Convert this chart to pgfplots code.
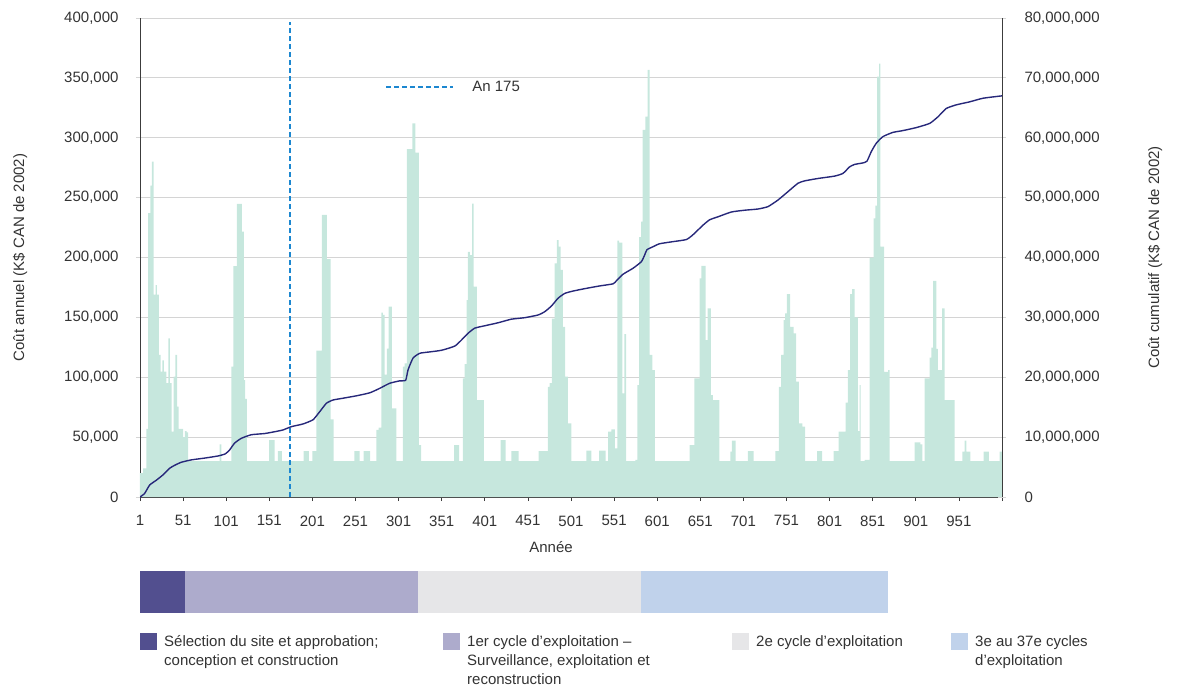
\documentclass[border=0pt]{standalone}
\usepackage{fontspec}
\setmainfont{Liberation Sans}
\usepackage{pgfplots}
\pgfplotsset{compat=1.18}

\definecolor{barfill}{HTML}{C6E7DD}
\definecolor{cumline}{HTML}{27287A}
\definecolor{an175}{HTML}{1C87D0}
\definecolor{gridgray}{HTML}{D4D4D4}
\definecolor{axisdark}{HTML}{3C3C3C}
\definecolor{txt}{HTML}{333333}
\definecolor{phaseA}{HTML}{524F8F}
\definecolor{phaseB}{HTML}{ADABCC}
\definecolor{phaseC}{HTML}{E6E6E8}
\definecolor{phaseD}{HTML}{C0D2EB}

\newcommand*{\chartfont}{\fontsize{15}{19}\selectfont}

\pgfplotsset{
  costaxis/.style={
    scale only axis,
    width=862pt, height=479pt,
    at={(140pt,-497pt)}, anchor=south west,
    xmin=1, xmax=1001,
    scaled y ticks=false,
    tick align=outside,
    major tick length=8pt,
    /pgf/number format/assume math mode=true,
    /pgf/number format/.cd, fixed, 1000 sep={,}, /pgfplots/.cd,
    tick label style={font=\chartfont, text=txt},
    label style={font=\chartfont, text=txt},
    ytick style={gridgray, line width=1pt},
  },
}

\begin{document}
\begin{tikzpicture}[x=1pt, y=1pt]
\useasboundingbox (0,0) rectangle (1178,-689);

% annual cost (left axis)
\begin{axis}[
    costaxis,
    ymin=0, ymax=400000,
    axis x line=bottom, axis y line=left,
    axis line style={axisdark, line width=0.8pt, -},
    ytick={0,50000,100000,150000,200000,250000,300000,350000,400000},
    yticklabel style={xshift=-14pt},
    ymajorgrids=true,
    grid style={gridgray, line width=1pt},
    xtick={1,51,101,151,201,251,301,351,401,451,501,551,601,651,701,751,801,851,901,951,1001},
    xticklabels={1,51,101,151,201,251,301,351,401,451,501,551,601,651,701,751,801,851,901,951,{}},
    xticklabel style={yshift=-11pt},
    xtick style={axisdark, line width=0.8pt},
    xlabel={Année},
    ylabel={Coût annuel (K\$ CAN de 2002)},
    xlabel style={at={(axis description cs:0.4768,-0.1044)}, anchor=center},
    ylabel style={at={(axis description cs:-0.1392,0.5)}, anchor=center},
    legend style={at={(0.2842,0.856)}, anchor=west, draw=none, fill=none,
      inner sep=0pt, font=\chartfont, text=txt,
      nodes={inner sep=0pt},
      /tikz/every odd column/.append style={column sep=18pt}},
    legend image code/.code={\draw[#1] (0pt,0pt) -- (67pt,0pt);},
  ]

  \addplot[const plot, fill=barfill, draw=none, forget plot] coordinates {
    (1,20000) (4.5,24000) (8.3,57000) (10.3,237000) (13,260000) (14.9,280000)
    (16.9,169000) (19.2,177000) (20.7,169000) (23,118600) (25,104700)
    (26.9,114000) (28.8,104700) (31.5,95000) (33.8,132500) (35.7,95000)
    (37.6,54500) (40,100500) (42,118600) (44,75400) (45.9,57000) (51,50000)
    (53,55000) (55,54000) (56.7,30000)
    (93.4,44000) (95.3,30000) (106.9,108800) (109.2,192900) (113.5,244700)
    (119.3,221600) (121.6,97700) (123,82000) (125,30000) (150.7,47600)
    (157.2,30000) (161,38400) (165.6,30000)
    (190.9,38400) (197,30000) (200.9,38400) (205.5,122200) (212,235500)
    (217.9,198700) (222.1,64900) (225.6,30000) (249.6,38400) (255.8,30000)
    (260.4,38400) (268.1,30000) (275.1,56000) (277.8,57900) (280.9,153900)
    (282.8,152000) (284.8,102300) (287.5,124000) (289.4,159000) (293.2,74000)
    (298.3,30000) (306,108800) (308,111600) (310.7,290600) (316.9,312000)
    (320.4,287500) (324.6,43400) (327,30000)
    (365.3,43400) (371.1,30000) (375.7,99000) (377.7,111000) (380,164500)
    (381.5,204800) (383.8,202000) (386.4,245000) (388,175600) (391.8,81000)
    (400,30000) (419.3,47600) (425.1,30000) (431.7,38400) (440.2,30000)
    (463.4,38400) (474.2,92000) (476.2,95000) (478.9,149000) (482,195000)
    (484.7,214600) (486.6,209000) (488.9,189600) (491.6,142000) (494.3,100500)
    (497.4,61500) (501.3,30000)
    (518.8,38700) (524.6,30000) (533.5,38700) (541.2,30000) (544,54500)
    (547.8,56500) (552,40600) (554.8,214000) (556.7,212400) (560.5,86600)
    (562.9,136000) (564.8,30000) (575.6,31000) (577.9,93500) (579.9,217000)
    (582.2,230000) (584.1,306500) (587.2,317600) (589.9,356600) (592.2,118600)
    (595.3,106000) (598.4,30000)
    (638.6,43400) (644,99000) (650.2,182600) (652.1,193000) (657.1,131000)
    (659.4,157600) (663.3,85000) (665.6,81000) (673,30000) (685.8,37800)
    (687.7,47000) (692,30000) (706.3,38400) (712.8,30000) (738,38400)
    (742.2,92000) (744.9,118600) (747.6,147800) (749.5,153400) (751.5,169500)
    (755.3,142000) (759.2,136700) (762.3,96300) (765.4,61500) (769.3,58700)
    (772.7,30000) (786.6,38400) (792.4,30000) (805.6,38400) (811.4,54500)
    (819.5,78800) (822.2,106000) (824.9,169500) (827.2,173700) (829.9,150000)
    (833.8,55000) (835.7,93500) (836.9,30000) (841.7,31000) (847.5,199800)
    (852.2,232700) (854.1,243300) (856,351000) (858.4,362000) (859.9,209000)
    (864.2,104600) (868.8,106000) (870.7,30000)
    (899.7,45600) (906.3,44000) (908.6,30000) (911.3,99000) (917.1,116300)
    (919,124700) (921,180400) (924.8,123600) (926.7,106000) (931.4,157600)
    (934.5,81000) (946.1,30000) (955,37800) (957.7,47000) (959.6,37800)
    (964.3,30000) (979.7,37800) (985.9,30000) (998.3,37800) (1001,37800)
  } \closedcycle;

  \addplot[an175, line width=2.2pt, dash pattern=on 5pt off 3pt] coordinates {
    (175,0) (175,396700)
  };
  \addlegendentry{An 175}
\end{axis}

% cumulative cost (right axis)
\begin{axis}[
    costaxis,
    ymin=0, ymax=80000000,
    axis x line=none, axis y line=right,
    axis line style={axisdark, line width=0.8pt, -},
    ytick={0,10000000,20000000,30000000,40000000,50000000,60000000,70000000,80000000},
    yticklabel style={xshift=15pt},
    ylabel={Coût cumulatif (K\$ CAN de 2002)},
    ylabel style={at={(axis description cs:1.1775,0.5)}, anchor=center,
      font=\chartfont, text=txt},
  ]
  \addplot[cumline, line width=1.4pt, smooth, tension=0.3] coordinates {
    (1,0) (6.4,600000) (12.2,2000000) (19.9,2800000) (27.7,3700000)
    (35.4,4800000) (41.2,5300000) (48.9,5800000) (60.5,6200000) (76,6500000)
    (91.4,6850000) (99.9,7200000) (104.9,7850000) (110.7,9000000)
    (118.5,9800000) (130.1,10400000) (145.5,10600000) (157.1,10900000)
    (166.9,11200000) (176.6,11750000) (190.1,12200000) (201.7,12900000)
    (209.5,14250000) (217.2,15650000) (224.9,16200000) (236.5,16500000)
    (252,16900000) (267.5,17400000) (279.1,18150000) (290.7,19000000)
    (302.3,19400000) (309.2,19500000) (311.9,21200000) (317.7,23200000)
    (325.5,24000000) (335.1,24200000) (350.6,24500000) (366.1,25200000)
    (373.8,26200000) (381.6,27350000) (389.3,28200000) (400.9,28600000)
    (416.4,29100000) (431.8,29700000) (447.3,29950000) (462.8,30400000)
    (470.5,30950000) (478.3,31900000) (486,33200000) (493.7,34000000)
    (503.4,34400000) (518.8,34850000) (534.2,35250000) (549.7,35600000)
    (553.6,36100000) (561.3,37200000) (572.9,38200000) (582.6,39300000)
    (586.4,40400000) (589.1,41300000) (596.1,41800000) (603.8,42300000)
    (619.3,42650000) (634.8,43000000) (642.5,43800000) (654.1,45400000)
    (661.8,46300000) (671.5,46800000) (687,47600000) (702.5,47900000)
    (717.9,48100000) (729.5,48500000) (741.1,49600000) (752.7,51000000)
    (764.3,52400000) (772.1,52800000) (787.5,53200000) (806.9,53600000)
    (816.5,54050000) (824.3,55150000) (830.1,55550000) (839.7,55800000)
    (844.4,56100000) (849.4,57700000) (855.2,59100000) (862.9,60200000)
    (874.5,60900000) (886.1,61200000) (901.6,61700000) (917.1,62400000)
    (926.7,63500000) (936.4,64900000) (948,65500000) (963.5,66000000)
    (978.9,66600000) (1001,67000000)
  };
\end{axis}

% phase band with its legend
\begin{axis}[
    scale only axis,
    width=862pt, height=42pt,
    at={(140pt,-613pt)}, anchor=south west,
    xmin=0, xmax=1000, ymin=0.5, ymax=1.5,
    hide axis,
    xbar stacked, bar width=42pt,
    legend columns=4,
    legend style={at={(0,-0.476)}, anchor=north west, draw=none, fill=none,
      inner sep=0pt, font=\chartfont, text=txt,
      nodes={inner sep=0pt},
      cells={anchor=north west},
      /tikz/every odd column/.append style={column sep=7pt},
      /tikz/every even column/.append style={column sep=0pt}},
    legend image code/.code={\fill[#1] (0pt,-17pt) rectangle (17pt,0pt);},
  ]
  \addplot[fill=phaseA, draw=none] coordinates {(52.2,1)};
  \addlegendentry{\parbox[t]{279pt}{\raggedright\strut Sélection du site et approbation;\\conception et construction}}
  \addplot[fill=phaseB, draw=none] coordinates {(270.3,1)};
  \addlegendentry{\parbox[t]{265pt}{\raggedright\strut 1er cycle d’exploitation –\\Surveillance, exploitation et\\reconstruction}}
  \addplot[fill=phaseC, draw=none] coordinates {(258.7,1)};
  \addlegendentry{\parbox[t]{195pt}{\raggedright\strut 2e cycle d’exploitation}}
  \addplot[fill=phaseD, draw=none] coordinates {(286.5,1)};
  \addlegendentry{\parbox[t]{180pt}{\raggedright\strut 3e au 37e cycles\\d’exploitation}}
\end{axis}
\end{tikzpicture}
\end{document}
